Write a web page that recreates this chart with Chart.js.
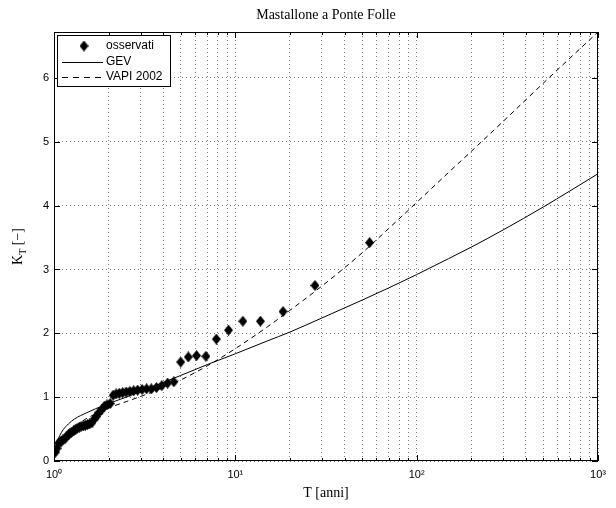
<!DOCTYPE html>
<html>
<head>
<meta charset="utf-8">
<script src="https://cdn.jsdelivr.net/npm/chart.js@4"></script>
<style>
  html, body { margin: 0; background: #fff; }
</style>
</head>
<body>
<canvas id="grafico" width="616" height="508"></canvas>
<script>
// Osservati: tempo di ritorno (posizioni di plotting) e K_T
var obsT = [55, 27.5, 18.33, 13.75, 11, 9.17, 7.86, 6.88, 6.11, 5.5,
  5, 4.58, 4.23, 3.93, 3.67, 3.44, 3.24, 3.06, 2.89, 2.75,
  2.62, 2.5, 2.39, 2.29, 2.2, 2.12, 2.04, 1.96, 1.9, 1.83,
  1.77, 1.72, 1.67, 1.62, 1.57, 1.53, 1.49, 1.45, 1.41, 1.38,
  1.34, 1.31, 1.28, 1.25, 1.22, 1.2, 1.17, 1.15, 1.12, 1.1,
  1.08, 1.06, 1.04, 1.02];
var obsK = [3.42, 2.75, 2.34, 2.19, 2.19, 2.05, 1.91, 1.64, 1.65, 1.63,
  1.55, 1.24, 1.22, 1.18, 1.15, 1.13, 1.13, 1.12, 1.11, 1.10,
  1.09, 1.08, 1.07, 1.06, 1.05, 1.03, 0.90, 0.88, 0.86, 0.80,
  0.76, 0.70, 0.66, 0.60, 0.58, 0.57, 0.56, 0.55, 0.54, 0.53,
  0.51, 0.49, 0.47, 0.45, 0.43, 0.41, 0.38, 0.35, 0.33, 0.31,
  0.30, 0.28, 0.20, 0.14];

// Curve
var curveT = [1.01, 1.05, 1.1, 1.2, 1.3, 1.5, 1.7, 2, 2.5, 3, 4, 5, 7, 10, 15, 20, 30, 50, 70, 100, 150, 200, 300, 500, 700, 1000];
var gevK = [0.12, 0.32, 0.45, 0.58, 0.66, 0.75, 0.82, 0.90, 1.00, 1.09, 1.23, 1.34, 1.51, 1.68, 1.88, 2.02, 2.24, 2.52, 2.71, 2.92, 3.17, 3.35, 3.62, 3.98, 4.23, 4.50];
var vapiK = [0.10, 0.25, 0.34, 0.46, 0.54, 0.66, 0.74, 0.83, 0.93, 1.01, 1.15, 1.27, 1.49, 1.76, 2.10, 2.36, 2.74, 3.26, 3.64, 4.05, 4.52, 4.85, 5.32, 5.92, 6.31, 6.72];

var yTicks = [0, 1, 2, 3, 4, 5, 6];
var xDecadi = [1, 10, 100, 1000];
var xEtichette = ['10\u2070', '10\u00B9', '10\u00B2', '10\u00B3'];

var SANS = '"Liberation Sans", Arial, sans-serif';
var SERIF = '"Liberation Serif", "Times New Roman", serif';

function punti(xs, ys) {
  return xs.map(function(x, i) { return { x: x, y: ys[i] }; });
}

// marcatore a rombo stile MATLAB
var rombo = document.createElement('canvas');
rombo.width = 9; rombo.height = 11;
var rc = rombo.getContext('2d');
rc.fillStyle = '#000';
rc.beginPath();
rc.moveTo(4.5, 0); rc.lineTo(9, 5.5); rc.lineTo(4.5, 11); rc.lineTo(0, 5.5);
rc.closePath(); rc.fill();

// tutte le posizioni della griglia logaritmica
var xGriglia = [];
xDecadi.forEach(function(d, k) {
  if (k === xDecadi.length - 1) { xGriglia.push(d); return; }
  for (var m = 1; m < 10; m++) xGriglia.push(d * m);
});

var cornice = {
  id: 'cornice',
  afterDraw: function(chart) {
    var c = chart.ctx, a = chart.chartArea;
    var sx = chart.scales.x, sy = chart.scales.y;
    c.save();
    c.strokeStyle = '#000';
    c.lineWidth = 1;
    c.strokeRect(Math.round(a.left) + 0.5, Math.round(a.top) + 0.5, a.right - a.left - 1, a.bottom - a.top - 1);
    // tacche interne
    c.beginPath();
    xGriglia.forEach(function(v) {
      var px = Math.round(sx.getPixelForValue(v)) + 0.5;
      var l = xDecadi.indexOf(v) >= 0 ? 6 : 3;
      c.moveTo(px, a.bottom); c.lineTo(px, a.bottom - l);
      c.moveTo(px, a.top); c.lineTo(px, a.top + l);
    });
    yTicks.forEach(function(v) {
      var py = Math.round(sy.getPixelForValue(v)) + 0.5;
      c.moveTo(a.left, py); c.lineTo(a.left + 6, py);
      c.moveTo(a.right, py); c.lineTo(a.right - 6, py);
    });
    c.stroke();

    // titolo e assi
    c.fillStyle = '#000';
    c.font = '14px ' + SERIF;
    c.textAlign = 'center';
    c.textBaseline = 'alphabetic';
    c.fillText('Mastallone a Ponte Folle', (a.left + a.right) / 2, 19);
    c.fillText('T [anni]', (a.left + a.right) / 2, 497);

    c.save();
    c.translate(22, (a.top + a.bottom) / 2);
    c.rotate(-Math.PI / 2);
    c.textAlign = 'left';
    var w1 = c.measureText('K').width;
    c.font = '10px ' + SERIF;
    var w2 = c.measureText('T').width;
    c.font = '14px ' + SERIF;
    var w3 = c.measureText(' [\u2212]').width;
    var x0 = -(w1 + w2 + w3) / 2;
    c.fillText('K', x0, 0);
    c.font = '10px ' + SERIF;
    c.fillText('T', x0 + w1, 4);
    c.font = '14px ' + SERIF;
    c.fillText(' [\u2212]', x0 + w1 + w2, 0);
    c.restore();

    // legenda
    var lx = 57.5, ly = 35.5, lw = 113, lh = 51;
    c.fillStyle = '#fff';
    c.fillRect(lx, ly, lw, lh);
    c.strokeRect(lx, ly, lw, lh);
    c.fillStyle = '#000';
    c.font = '12px ' + SANS;
    c.textAlign = 'left';
    c.textBaseline = 'middle';
    var righe = [46, 61.5, 77];
    c.drawImage(rombo, 79.5, righe[0] - 5.5);
    c.fillText('osservati', 106, righe[0]);
    c.beginPath();
    c.moveTo(62, Math.round(righe[1]) + 0.5); c.lineTo(103, Math.round(righe[1]) + 0.5);
    c.stroke();
    c.fillText('GEV', 106, righe[1]);
    c.setLineDash([6, 5]);
    c.beginPath();
    c.moveTo(62, righe[2] + 0.5); c.lineTo(103, righe[2] + 0.5);
    c.stroke();
    c.setLineDash([]);
    c.fillText('VAPI 2002', 106, righe[2]);
    c.restore();
  }
};

var ctx = document.getElementById('grafico').getContext('2d');
var grafico = new Chart(ctx, {
  type: 'scatter',
  data: {
    datasets: [{
      label: 'GEV',
      data: punti(curveT, gevK),
      showLine: true,
      borderColor: '#000',
      borderWidth: 1,
      pointRadius: 0,
      cubicInterpolationMode: 'monotone',
      order: 2
    }, {
      label: 'VAPI 2002',
      data: punti(curveT, vapiK),
      showLine: true,
      borderColor: '#000',
      borderWidth: 1,
      borderDash: [5, 4],
      pointRadius: 0,
      cubicInterpolationMode: 'monotone',
      order: 3
    }, {
      label: 'osservati',
      data: punti(obsT, obsK),
      pointStyle: rombo,
      pointRadius: 5,
      backgroundColor: '#000',
      borderColor: '#000',
      order: 1
    }]
  },
  options: {
    responsive: false,
    animation: false,
    layout: { padding: { top: 32, right: 18, left: 0, bottom: 0 } },
    plugins: { legend: { display: false }, tooltip: { enabled: false } },
    scales: {
      x: {
        type: 'logarithmic',
        min: 1,
        max: 1000,
        afterFit: function(s) { s.height = 47; },
        afterBuildTicks: function(s) {
          s.ticks = xGriglia.map(function(v) { return { value: v }; });
        },
        ticks: {
          autoSkip: false,
          maxRotation: 0,
          padding: 7,
          color: '#000',
          font: { family: SANS, size: 11 },
          callback: function(v) {
            var k = xDecadi.indexOf(v);
            return k >= 0 ? xEtichette[k] : '';
          }
        },
        grid: {
          color: 'rgba(0,0,0,0.5)',
          drawTicks: false
        },
        border: { display: false, dash: [1, 3] }
      },
      y: {
        min: 0,
        max: 6.72,
        afterFit: function(s) { s.width = 54; },
        afterBuildTicks: function(s) {
          s.ticks = yTicks.map(function(v) { return { value: v }; });
        },
        ticks: {
          padding: 5,
          color: '#000',
          font: { family: SANS, size: 11 }
        },
        grid: {
          color: 'rgba(0,0,0,0.5)',
          drawTicks: false
        },
        border: { display: false, dash: [1, 3] }
      }
    }
  },
  plugins: [cornice]
});
</script>
</body>
</html>
